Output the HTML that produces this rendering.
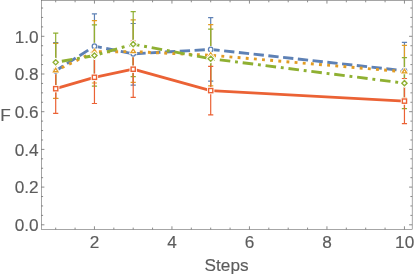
<!DOCTYPE html>
<html><head><meta charset="utf-8"><title>Chart</title>
<style>html,body{margin:0;padding:0;background:#fff;}body{width:415px;height:276px;overflow:hidden;font-family:"Liberation Sans",sans-serif;}svg{display:block;will-change:transform;opacity:0.999;filter:blur(0.35px)}.t text{font-family:"Liberation Sans",sans-serif;}</style>
</head><body>
<svg width="415" height="276" viewBox="0 0 415 276">
<rect width="415" height="276" fill="#fff"/>
<path d="M55.70 42.60V98.50M53.10 42.60H58.30M53.10 98.50H58.30M94.45 13.90V78.50M91.85 13.90H97.05M91.85 78.50H97.05M133.20 23.50V85.10M130.60 23.50H135.80M130.60 85.10H135.80M210.70 17.70V81.20M208.10 17.70H213.30M208.10 81.20H213.30M404.45 42.40V99.00M401.85 42.40H407.05M401.85 99.00H407.05" stroke="#5E81B5" stroke-width="1.2" fill="none"/>
<path d="M55.70 43.40V98.40M53.10 43.40H58.30M53.10 98.40H58.30M94.45 20.60V83.00M91.85 20.60H97.05M91.85 83.00H97.05M133.20 19.90V82.30M130.60 19.90H135.80M130.60 82.30H135.80M210.70 24.70V85.80M208.10 24.70H213.30M208.10 85.80H213.30M404.45 45.30V98.20M401.85 45.30H407.05M401.85 98.20H407.05" stroke="#E19C24" stroke-width="1.2" fill="none"/>
<path d="M55.70 33.10V91.50M53.10 33.10H58.30M53.10 91.50H58.30M94.45 24.90V86.10M91.85 24.90H97.05M91.85 86.10H97.05M133.20 11.70V76.60M130.60 11.70H135.80M130.60 76.60H135.80M210.70 29.10V88.30M208.10 29.10H213.30M208.10 88.30H213.30M404.45 57.70V108.60M401.85 57.70H407.05M401.85 108.60H407.05" stroke="#8FB032" stroke-width="1.2" fill="none"/>
<path d="M55.70 64.00V113.40M53.10 64.00H58.30M53.10 113.40H58.30M94.45 51.10V103.50M91.85 51.10H97.05M91.85 103.50H97.05M133.20 41.00V97.40M130.60 41.00H135.80M130.60 97.40H135.80M210.70 66.30V114.90M208.10 66.30H213.30M208.10 114.90H213.30M404.45 78.50V123.70M401.85 78.50H407.05M401.85 123.70H407.05" stroke="#EB6235" stroke-width="1.2" fill="none"/>
<polyline points="55.70,70.80 94.45,46.20 133.20,53.80 210.70,49.45 404.45,70.70" stroke="#5E81B5" stroke-width="2.9" fill="none" stroke-linejoin="round" stroke-dasharray="10.32 4.51" stroke-dashoffset="1.45"/>
<polyline points="55.70,70.70 94.45,51.80 133.20,51.60 210.70,55.25 404.45,71.75" stroke="#E19C24" stroke-width="2.9" fill="none" stroke-linejoin="round" stroke-dasharray="2.9 5.27" stroke-dashoffset="1.45"/>
<polyline points="55.70,62.30 94.45,55.50 133.20,44.15 210.70,58.70 404.45,83.15" stroke="#8FB032" stroke-width="2.9" fill="none" stroke-linejoin="round" stroke-dasharray="2.9 4.79 10.59 4.79" stroke-dashoffset="1.45"/>
<polyline points="55.70,88.70 94.45,77.30 133.20,69.20 210.70,90.60 404.45,101.10" stroke="#EB6235" stroke-width="2.9" fill="none" stroke-linejoin="round"/>
<circle cx="55.70" cy="70.80" r="3.4" fill="#fff"/>
<circle cx="55.70" cy="70.80" r="2.25" fill="#fff" stroke="#5E81B5" stroke-width="1.3"/>
<circle cx="94.45" cy="46.20" r="3.4" fill="#fff"/>
<circle cx="94.45" cy="46.20" r="2.25" fill="#fff" stroke="#5E81B5" stroke-width="1.3"/>
<circle cx="133.20" cy="53.80" r="3.4" fill="#fff"/>
<circle cx="133.20" cy="53.80" r="2.25" fill="#fff" stroke="#5E81B5" stroke-width="1.3"/>
<circle cx="210.70" cy="49.45" r="3.4" fill="#fff"/>
<circle cx="210.70" cy="49.45" r="2.25" fill="#fff" stroke="#5E81B5" stroke-width="1.3"/>
<circle cx="404.45" cy="70.70" r="3.4" fill="#fff"/>
<circle cx="404.45" cy="70.70" r="2.25" fill="#fff" stroke="#5E81B5" stroke-width="1.3"/>
<path d="M55.70 66.90L59.15 72.40H52.25Z" fill="#fff" stroke="#fff" stroke-width="1.4" stroke-linejoin="round"/>
<path d="M55.70 66.90L59.15 72.40H52.25Z" fill="#E19C24"/>
<path d="M55.70 69.40L56.74 71.10H54.66Z" fill="#fff"/>
<path d="M94.45 48.00L97.90 53.50H91.00Z" fill="#fff" stroke="#fff" stroke-width="1.4" stroke-linejoin="round"/>
<path d="M94.45 48.00L97.90 53.50H91.00Z" fill="#E19C24"/>
<path d="M94.45 50.50L95.49 52.20H93.41Z" fill="#fff"/>
<path d="M133.20 47.80L136.65 53.30H129.75Z" fill="#fff" stroke="#fff" stroke-width="1.4" stroke-linejoin="round"/>
<path d="M133.20 47.80L136.65 53.30H129.75Z" fill="#E19C24"/>
<path d="M133.20 50.30L134.24 52.00H132.16Z" fill="#fff"/>
<path d="M210.70 51.45L214.15 56.95H207.25Z" fill="#fff" stroke="#fff" stroke-width="1.4" stroke-linejoin="round"/>
<path d="M210.70 51.45L214.15 56.95H207.25Z" fill="#E19C24"/>
<path d="M210.70 53.95L211.74 55.65H209.66Z" fill="#fff"/>
<path d="M404.45 67.95L407.90 73.45H401.00Z" fill="#fff" stroke="#fff" stroke-width="1.4" stroke-linejoin="round"/>
<path d="M404.45 67.95L407.90 73.45H401.00Z" fill="#E19C24"/>
<path d="M404.45 70.45L405.49 72.15H403.41Z" fill="#fff"/>
<path d="M55.70 58.75L59.25 62.30L55.70 65.85L52.15 62.30Z" fill="#fff" stroke="#fff" stroke-width="2.0" stroke-linejoin="round"/>
<path d="M55.70 59.70L58.30 62.30L55.70 64.90L53.10 62.30Z" fill="#fff" stroke="#8FB032" stroke-width="1.35"/>
<path d="M94.45 51.95L98.00 55.50L94.45 59.05L90.90 55.50Z" fill="#fff" stroke="#fff" stroke-width="2.0" stroke-linejoin="round"/>
<path d="M94.45 52.90L97.05 55.50L94.45 58.10L91.85 55.50Z" fill="#fff" stroke="#8FB032" stroke-width="1.35"/>
<path d="M133.20 40.60L136.75 44.15L133.20 47.70L129.65 44.15Z" fill="#fff" stroke="#fff" stroke-width="2.0" stroke-linejoin="round"/>
<path d="M133.20 41.55L135.80 44.15L133.20 46.75L130.60 44.15Z" fill="#fff" stroke="#8FB032" stroke-width="1.35"/>
<path d="M210.70 55.15L214.25 58.70L210.70 62.25L207.15 58.70Z" fill="#fff" stroke="#fff" stroke-width="2.0" stroke-linejoin="round"/>
<path d="M210.70 56.10L213.30 58.70L210.70 61.30L208.10 58.70Z" fill="#fff" stroke="#8FB032" stroke-width="1.35"/>
<path d="M404.45 79.60L408.00 83.15L404.45 86.70L400.90 83.15Z" fill="#fff" stroke="#fff" stroke-width="2.0" stroke-linejoin="round"/>
<path d="M404.45 80.55L407.05 83.15L404.45 85.75L401.85 83.15Z" fill="#fff" stroke="#8FB032" stroke-width="1.35"/>
<rect x="52.05" y="85.05" width="7.3" height="7.3" fill="#fff"/>
<rect x="53.60" y="86.60" width="4.2" height="4.2" fill="#fff" stroke="#EB6235" stroke-width="1.4"/>
<rect x="90.80" y="73.65" width="7.3" height="7.3" fill="#fff"/>
<rect x="92.35" y="75.20" width="4.2" height="4.2" fill="#fff" stroke="#EB6235" stroke-width="1.4"/>
<rect x="129.55" y="65.55" width="7.3" height="7.3" fill="#fff"/>
<rect x="131.10" y="67.10" width="4.2" height="4.2" fill="#fff" stroke="#EB6235" stroke-width="1.4"/>
<rect x="207.05" y="86.95" width="7.3" height="7.3" fill="#fff"/>
<rect x="208.60" y="88.50" width="4.2" height="4.2" fill="#fff" stroke="#EB6235" stroke-width="1.4"/>
<rect x="400.80" y="97.45" width="7.3" height="7.3" fill="#fff"/>
<rect x="402.35" y="99.00" width="4.2" height="4.2" fill="#fff" stroke="#EB6235" stroke-width="1.4"/>
<rect x="41.3" y="0.5" width="370.9" height="228.9" fill="none" stroke="#666666" stroke-width="0.58"/>
<path d="M41.3 224.80h3.1M412.2 224.80h-3.1M41.3 215.38h1.8M412.2 215.38h-1.8M41.3 205.95h1.8M412.2 205.95h-1.8M41.3 196.53h1.8M412.2 196.53h-1.8M41.3 187.10h3.1M412.2 187.10h-3.1M41.3 177.68h1.8M412.2 177.68h-1.8M41.3 168.25h1.8M412.2 168.25h-1.8M41.3 158.82h1.8M412.2 158.82h-1.8M41.3 149.40h3.1M412.2 149.40h-3.1M41.3 139.98h1.8M412.2 139.98h-1.8M41.3 130.55h1.8M412.2 130.55h-1.8M41.3 121.12h1.8M412.2 121.12h-1.8M41.3 111.70h3.1M412.2 111.70h-3.1M41.3 102.28h1.8M412.2 102.28h-1.8M41.3 92.85h1.8M412.2 92.85h-1.8M41.3 83.43h1.8M412.2 83.43h-1.8M41.3 74.00h3.1M412.2 74.00h-3.1M41.3 64.57h1.8M412.2 64.57h-1.8M41.3 55.15h1.8M412.2 55.15h-1.8M41.3 45.72h1.8M412.2 45.72h-1.8M41.3 36.30h3.1M412.2 36.30h-3.1M41.3 26.88h1.8M412.2 26.88h-1.8M41.3 17.45h1.8M412.2 17.45h-1.8M41.3 8.02h1.8M412.2 8.02h-1.8M55.70 229.4v-1.8M55.70 0.5v1.8M75.08 229.4v-1.8M75.08 0.5v1.8M94.45 229.4v-3.1M94.45 0.5v3.1M113.83 229.4v-1.8M113.83 0.5v1.8M133.20 229.4v-1.8M133.20 0.5v1.8M152.57 229.4v-1.8M152.57 0.5v1.8M171.95 229.4v-3.1M171.95 0.5v3.1M191.32 229.4v-1.8M191.32 0.5v1.8M210.70 229.4v-1.8M210.70 0.5v1.8M230.07 229.4v-1.8M230.07 0.5v1.8M249.45 229.4v-3.1M249.45 0.5v3.1M268.82 229.4v-1.8M268.82 0.5v1.8M288.20 229.4v-1.8M288.20 0.5v1.8M307.57 229.4v-1.8M307.57 0.5v1.8M326.95 229.4v-3.1M326.95 0.5v3.1M346.32 229.4v-1.8M346.32 0.5v1.8M365.70 229.4v-1.8M365.70 0.5v1.8M385.07 229.4v-1.8M385.07 0.5v1.8M404.45 229.4v-3.1M404.45 0.5v3.1" stroke="#666666" stroke-width="0.75" fill="none"/>
<g class="t" font-size="17.2" fill="#5c5c5c" stroke="#5c5c5c" stroke-width="0.15">
<text x="38.6" y="231.00" text-anchor="end">0.0</text>
<text x="38.6" y="193.30" text-anchor="end">0.2</text>
<text x="38.6" y="155.60" text-anchor="end">0.4</text>
<text x="38.6" y="117.90" text-anchor="end">0.6</text>
<text x="38.6" y="80.20" text-anchor="end">0.8</text>
<text x="38.6" y="42.50" text-anchor="end">1.0</text>
<text x="94.65" y="247.6" text-anchor="middle">2</text>
<text x="172.15" y="247.6" text-anchor="middle">4</text>
<text x="249.65" y="247.6" text-anchor="middle">6</text>
<text x="327.15" y="247.6" text-anchor="middle">8</text>
<text x="404.65" y="247.6" text-anchor="middle">10</text>
<text x="0.3" y="120.8">F</text>
<text x="226.6" y="271" text-anchor="middle">Steps</text>
</g>
</svg>
</body></html>
